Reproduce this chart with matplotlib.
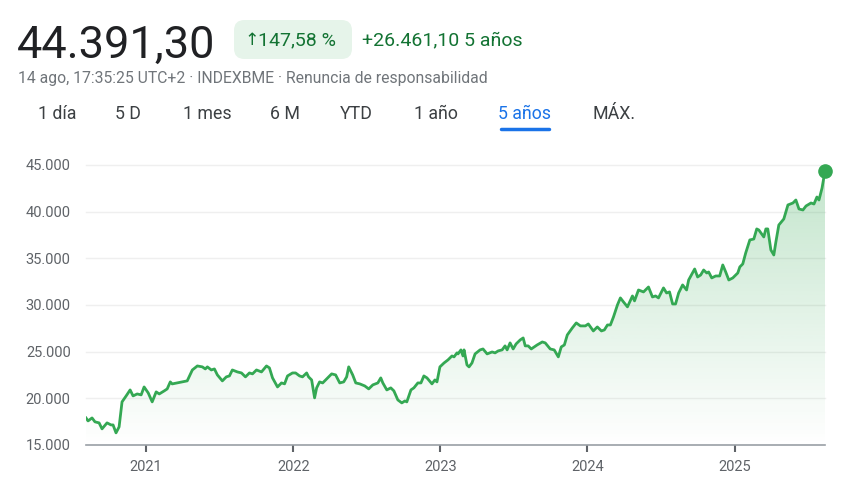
import matplotlib
matplotlib.use("Agg")
import matplotlib.pyplot as plt
import numpy as np
from matplotlib.patches import FancyBboxPatch, Polygon

plt.rcParams['font.family'] = ['Roboto', 'DejaVu Sans']

# values (decimal year, index level)
years = [
    2020.591, 2020.605, 2020.632, 2020.652, 2020.680, 2020.700, 2020.734, 2020.761, 2020.775, 2020.795,
    2020.816, 2020.836, 2020.864, 2020.891, 2020.911, 2020.939, 2020.966, 2020.986, 2021.014, 2021.041,
    2021.068, 2021.089, 2021.123, 2021.143, 2021.164, 2021.177, 2021.211, 2021.245, 2021.279, 2021.314,
    2021.348, 2021.382, 2021.402, 2021.416, 2021.443, 2021.464, 2021.484, 2021.518, 2021.545, 2021.566,
    2021.586, 2021.620, 2021.648, 2021.675, 2021.702, 2021.723, 2021.750, 2021.784, 2021.818, 2021.838,
    2021.859, 2021.893, 2021.920, 2021.941, 2021.961, 2021.995, 2022.016, 2022.043, 2022.063, 2022.091,
    2022.104, 2022.125, 2022.145, 2022.159, 2022.179, 2022.200, 2022.227, 2022.261, 2022.288, 2022.316,
    2022.343, 2022.363, 2022.377, 2022.404, 2022.425, 2022.452, 2022.486, 2022.513, 2022.541, 2022.575,
    2022.595, 2022.609, 2022.636, 2022.663, 2022.684, 2022.711, 2022.738, 2022.759, 2022.772, 2022.800,
    2022.820, 2022.847, 2022.868, 2022.888, 2022.909, 2022.943, 2022.963, 2022.977, 2022.997, 2023.025,
    2023.052, 2023.079, 2023.093, 2023.113, 2023.120, 2023.140, 2023.154, 2023.161, 2023.181, 2023.195,
    2023.215, 2023.236, 2023.270, 2023.290, 2023.318, 2023.352, 2023.372, 2023.393, 2023.420, 2023.440,
    2023.454, 2023.474, 2023.495, 2023.515, 2023.543, 2023.563, 2023.577, 2023.597, 2023.618, 2023.638,
    2023.658, 2023.693, 2023.713, 2023.747, 2023.774, 2023.802, 2023.822, 2023.843, 2023.863, 2023.897,
    2023.924, 2023.952, 2023.986, 2024.006, 2024.040, 2024.067, 2024.095, 2024.115, 2024.136, 2024.156,
    2024.177, 2024.204, 2024.224, 2024.245, 2024.272, 2024.306, 2024.320, 2024.347, 2024.381, 2024.415,
    2024.442, 2024.463, 2024.483, 2024.517, 2024.538, 2024.558, 2024.579, 2024.599, 2024.620, 2024.647,
    2024.674, 2024.688, 2024.729, 2024.749, 2024.770, 2024.790, 2024.811, 2024.824, 2024.845, 2024.872,
    2024.899, 2024.920, 2024.940, 2024.961, 2024.988, 2025.022, 2025.036, 2025.056, 2025.076, 2025.104,
    2025.131, 2025.151, 2025.165, 2025.199, 2025.213, 2025.226, 2025.247, 2025.267, 2025.281, 2025.301,
    2025.335, 2025.363, 2025.397, 2025.417, 2025.438, 2025.465, 2025.486, 2025.520, 2025.540, 2025.560,
    2025.574, 2025.595, 2025.615,
]
prices = [
    17900, 17580, 17900, 17480, 17370, 16730, 17370, 17150, 17150, 16300,
    16940, 19620, 20260, 20900, 20260, 20470, 20370, 21220, 20580, 19620,
    20690, 20470, 20800, 21010, 21760, 21545, 21650, 21760, 21870, 23040,
    23470, 23370, 23150, 23370, 23040, 23150, 22510, 21870, 22300, 22400,
    23040, 22830, 22720, 22300, 22720, 22620, 23040, 22830, 23470, 23260,
    22190, 21220, 21650, 21550, 22400, 22720, 22720, 22400, 22300, 22720,
    22300, 21970, 20050, 21120, 21760, 21650, 22080, 22620, 22510, 21650,
    21760, 22300, 23370, 22510, 21650, 21550, 21330, 21010, 21440, 21650,
    22190, 21650, 20900, 21120, 20800, 19830, 19510, 19720, 19620, 20900,
    21120, 21650, 21650, 22400, 22190, 21550, 21970, 21760, 23370, 23790,
    24120, 24540, 24440, 24870, 24760, 25190, 24540, 25190, 23580, 23370,
    23790, 24760, 25190, 25290, 24760, 24970, 24870, 25080, 25190, 25620,
    25190, 25940, 25290, 25830, 26260, 26470, 25620, 25620, 25290, 25510,
    25720, 26040, 25940, 25290, 25190, 24440, 25510, 25720, 26790, 27540,
    28080, 27760, 27760, 27970, 27220, 27650, 27220, 27330, 27860, 27860,
    28720, 30010, 30760, 30330, 29800, 30970, 30440, 31610, 31400, 31930,
    30860, 30970, 30760, 31830, 31290, 31400, 30110, 30110, 31290, 32150,
    31610, 32680, 33860, 33000, 33220, 33750, 33430, 33540, 32900, 33110,
    33110, 34290, 33540, 32680, 32900, 33430, 34080, 34400, 35580, 36970,
    37070, 38150, 38040, 37290, 38150, 38150, 35900, 35360, 36750, 38570,
    39220, 40720, 40930, 41250, 40290, 40180, 40610, 40930, 40820, 41570,
    41250, 42540, 44391,
]
y_ticks = [15000, 20000, 25000, 30000, 35000, 40000, 45000]
y_tick_labels = ['15.000', '20.000', '25.000', '30.000', '35.000', '40.000', '45.000']
x_ticks = [2021, 2022, 2023, 2024, 2025]
tabs = ['1 día', '5 D', '1 mes', '6 M', 'YTD', '1 año', '5 años', 'MÁX.']
active_tab = '5 años'

GREEN = '#34a853'
W, H = 868, 487

fig = plt.figure(figsize=(W / 100, H / 100), dpi=100)
fig.patch.set_facecolor('white')


def fx(px):
    return px / W


def fy(py):
    return 1 - py / H


# header
fig.text(fx(17), fy(58), '44.391,30', fontsize=32.5, color='#202124', va='baseline')
badge = FancyBboxPatch((fx(234), fy(59)), fx(118), 39 / H,
                       boxstyle='round,pad=0,rounding_size=0.012',
                       transform=fig.transFigure, facecolor='#e6f4ea',
                       edgecolor='none', mutation_aspect=W / H)
fig.patches.append(badge)
fig.text(fx(244), fy(40), '↑', fontsize=12.5, color='#137333', va='center',
         family=['DejaVu Sans'])
fig.text(fx(258), fy(40), '147,58 %', fontsize=14, color='#137333', va='center')
fig.text(fx(362), fy(40), '+26.461,10 5 años', fontsize=14, color='#137333',
         va='center')
fig.text(fx(18), fy(79), '14 ago, 17:35:25 UTC+2 · INDEXBME · Renuncia de responsabilidad',
         fontsize=11.3, color='#70757a', va='center')

tab_x = [38, 115, 183, 270, 340, 414, 498, 593]
for t, x in zip(tabs, tab_x):
    c = '#1a73e8' if t == active_tab else '#3c4043'
    fig.text(fx(x), fy(114), t, fontsize=12.8, color=c, va='center')
fig.add_artist(plt.Line2D([fx(501), fx(549)], [fy(129), fy(129)], color='#1a73e8',
                          lw=2.5, solid_capstyle='round'))

# chart
ax = fig.add_axes([fx(86), fy(445), fx(825) - fx(86), fy(165) - fy(445)])
x = np.array(years)
y = np.array(prices)
ax.set_xlim(years[0], years[-1])
ax.set_ylim(15000, 45000)

for v in y_ticks[1:]:
    ax.axhline(v, color='#efefef', lw=1, zorder=0, clip_on=False)

grad = np.linspace(0.3, 0.0, 256).reshape(-1, 1)
rgba = np.zeros((256, 1, 4))
rgba[..., :3] = matplotlib.colors.to_rgb(GREEN)
rgba[..., 3] = grad
img = ax.imshow(rgba, extent=[years[0], years[-1], 15000, 45000], aspect='auto',
                origin='upper', zorder=1)
poly = Polygon(np.column_stack([np.r_[x, x[-1], x[0]], np.r_[y, 15000, 15000]]),
               closed=True, transform=ax.transData, facecolor='none', edgecolor='none')
ax.add_patch(poly)
img.set_clip_path(poly)

ax.plot(x, y, color=GREEN, lw=2, zorder=3, solid_joinstyle='round')
ax.plot([x[-1]], [y[-1]], 'o', color=GREEN, ms=9.5, zorder=4, clip_on=False)

for s in ['top', 'right', 'left']:
    ax.spines[s].set_visible(False)
ax.spines['bottom'].set_color('#9aa0a6')
ax.spines['bottom'].set_linewidth(1.2)
ax.set_yticks(y_ticks)
ax.set_yticklabels(y_tick_labels)
ax.set_xticks(x_ticks)
ax.set_xticklabels([str(t) for t in x_ticks])
ax.tick_params(axis='y', length=0, pad=11, labelsize=10.5, labelcolor='#5f6368')
ax.tick_params(axis='x', length=5, width=1.5, color='#5f6368', pad=6,
               labelsize=10.5, labelcolor='#5f6368')

fig.savefig('out.png', dpi=100, facecolor='white')
